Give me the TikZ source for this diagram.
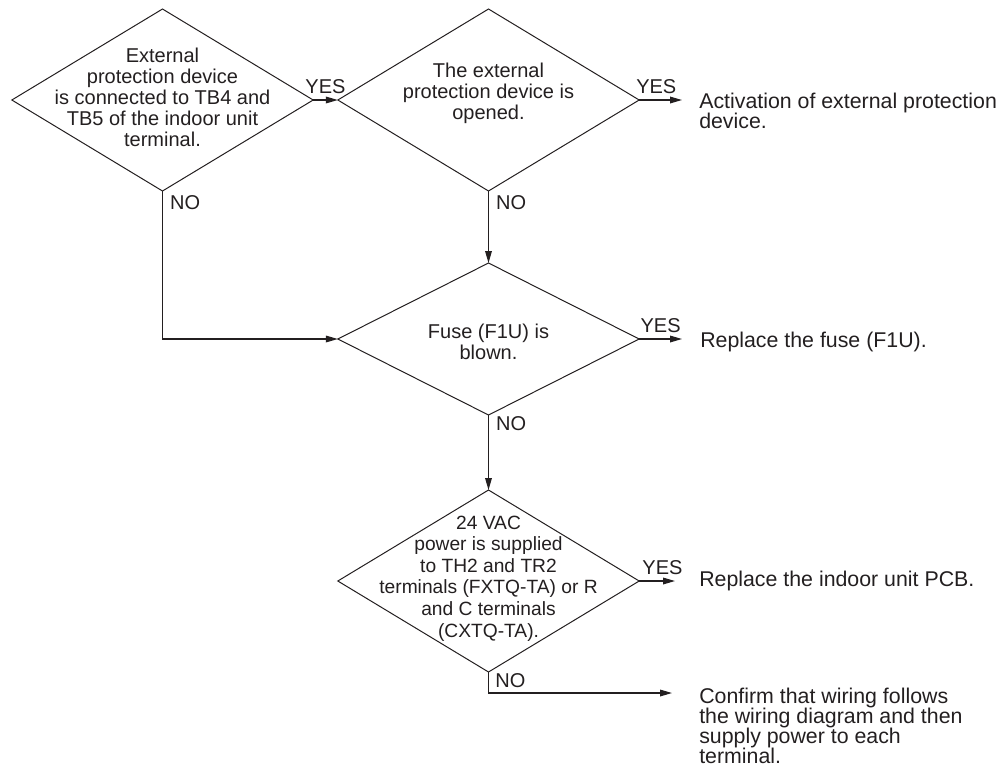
\documentclass[tikz,border=0pt]{standalone}
\usepackage{fontspec}
\setmainfont{Liberation Sans}
\usepackage{xcolor}
\usetikzlibrary{arrows.meta,positioning,shapes.geometric}
\definecolor{fink}{HTML}{231F20}

\tikzset{
  check/.style={diamond,draw=fink,line width=0.75pt,inner sep=0pt,outer sep=0pt,
    minimum width=226pt,minimum height=136.5pt},
  checktext/.style={align=center,inner sep=0pt,text=fink,
    font=\fontsize{15}{15.8}\selectfont},
  result/.style={align=left,inner sep=0pt,text=fink,
    font=\fontsize{16}{15}\selectfont},
  tag/.style={inner sep=0pt,text=fink,font=\fontsize{15}{15}\selectfont},
  flow/.style={draw=fink,line width=0.9pt,-{Triangle[length=9pt,width=5pt]}},
}

\begin{document}
\begin{tikzpicture}[x=0.75pt,y=-0.75pt]
  \useasboundingbox (0,0) rectangle (1007,769);

  % decisions
  \node[check] (ext)   at (162.5,100) {};
  \node[check] (open)  at (488.5,100) {};
  \node[check,minimum height=114pt] (fuse) at (488.5,339) {};
  \node[check] (power) at (488.5,581) {};

  \node[checktext] (ext-t) at ([yshift=2pt]ext)
    {External\\protection device\\is connected to TB4 and\\TB5 of the indoor unit\\terminal.};
  \node[checktext] (open-t) at ([yshift=5pt]open)
    {The external\\protection device is\\opened.};
  \node[checktext] (fuse-t) at ([yshift=-2pt]fuse) {Fuse (F1U) is\\blown.};
  \node[checktext,font=\fontsize{14.4}{16.2}\selectfont] (power-t) at ([yshift=2pt]power)
    {24 VAC\\power is supplied\\to TH2 and TR2\\terminals (FXTQ-TA) or R\\and C terminals\\(CXTQ-TA).};

  % results
  \node[result,anchor=north west] (act) at (699,93)
    {Activation of external protection\\device.};
  \node[result,anchor=base west] (repfuse) at (700,347) {Replace the fuse (F1U).};
  \node[result,anchor=base west] (reppcb) at (699,586) {Replace the indoor unit PCB.};
  \node[result,anchor=north west] (confirm) at (699,687.5)
    {Confirm that wiring follows\\the wiring diagram and then\\supply power to each\\terminal.};

  \coordinate (act-in)     at (682,100);
  \coordinate (repfuse-in) at (682,339);
  \coordinate (reppcb-in)  at (675,581);
  \coordinate (confirm-in) at (672,693);

  % YES branches
  \draw[flow] (ext.east) -- node[tag,above=4pt] {YES} (open.west);
  \draw[flow] (open.east) -- node[tag,above=4pt,pos=0.4] {YES} (act-in);
  \draw[flow] (fuse.east) -- node[tag,above=4pt] {YES} (repfuse-in);
  \draw[flow] (power.east) -- node[tag,above=4pt,pos=0.65] {YES} (reppcb-in);

  % NO branches
  \draw[flow] (ext.south) |- (fuse.west);
  \draw[flow] (open.south) -- (fuse.north);
  \draw[flow] (fuse.south) -- (power.north);
  \draw[flow] (power.south) |- (confirm-in);

  \node[tag,anchor=north west] (ext-no)   at ([xshift=5.5pt,yshift=-3pt]ext.south) {NO};
  \node[tag,anchor=north west] (open-no)  at ([xshift=5.5pt,yshift=-3pt]open.south) {NO};
  \node[tag,anchor=north west] (fuse-no)  at ([xshift=5.5pt,yshift=-1pt]fuse.south) {NO};
  \node[tag,anchor=north west] (power-no) at ([xshift=5pt,yshift=-1pt]power.south) {NO};
\end{tikzpicture}
\end{document}
